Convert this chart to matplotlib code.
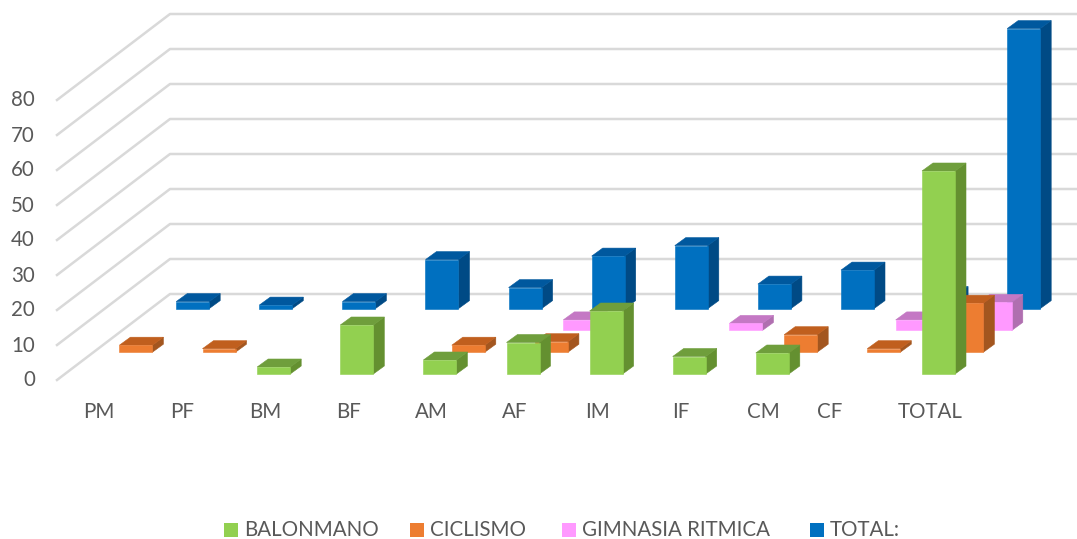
import matplotlib
matplotlib.use("Agg")
import matplotlib.pyplot as plt
from matplotlib.patches import Polygon, Rectangle

# data
categories = ["PM", "PF", "BM", "BF", "AM", "AF", "IM", "IF", "CM", "CF", "TOTAL"]
balonmano = [0, 0, 2, 14, 4, 9, 18, 5, 6, 0, 58]
ciclismo = [2, 1, 0, 0, 2, 3, 0, 0, 5, 1, 14]
gimnasia = [0, 0, 0, 0, 0, 3, 0, 2, 0, 3, 8]
total = [2, 1, 2, 14, 6, 15, 18, 7, 11, 4, 80]
y_ticks = [0, 10, 20, 30, 40, 50, 60, 70, 80]

series_names = ["BALONMANO", "CICLISMO", "GIMNASIA RITMICA", "TOTAL:"]
series_values = [balonmano, ciclismo, gimnasia, total]

# face, top, side
colors = [
    ("#92D050", "#6F9E3C", "#649030"),
    ("#ED7D31", "#C05F1E", "#A3561F"),
    ("#FF99FF", "#C478C4", "#B06FB0"),
    ("#0070C0", "#00589E", "#004A85"),
]

TEXT = "#595959"
GRID = "#D9D9D9"
FONT = "Lato"
FONT_SIZE = 14.8

# oblique projection of the excel 3d chart, in pixels
X0, Y0 = 91.0, 374.0
CAT_STEP = 83.1
ROW_DX, ROW_DY = 28.4, -21.8
BAR_W = 33.0
BAR_DX, BAR_DY = 11.0, -8.0
UNIT = 3.5
FLOOR_X, FLOOR_Y = 57.0, 380.0
WALL_DX, WALL_DY = 113.0, -86.0


def draw_bar(ax, cat, row, value):
    x = X0 + CAT_STEP * cat + ROW_DX * row
    base = Y0 + ROW_DY * row
    top = base - value * UNIT
    face, top_c, side = colors[row]
    ax.add_patch(Polygon(
        [(x + BAR_W, base), (x + BAR_W + BAR_DX, base + BAR_DY),
         (x + BAR_W + BAR_DX, top + BAR_DY), (x + BAR_W, top)],
        facecolor=side, edgecolor=side, lw=0.4))
    ax.add_patch(Polygon(
        [(x, top), (x + BAR_W, top), (x + BAR_W + BAR_DX, top + BAR_DY),
         (x + BAR_DX, top + BAR_DY)],
        facecolor=top_c, edgecolor=top_c, lw=0.4))
    ax.add_patch(Rectangle((x, top), BAR_W, base - top,
                           facecolor=face, edgecolor=face, lw=0.4))


def draw_grid(ax):
    for tick in y_ticks:
        y = FLOOR_Y - tick * UNIT
        ax.plot([FLOOR_X, FLOOR_X + WALL_DX, 1077],
                [y, y + WALL_DY, y + WALL_DY], color=GRID, lw=1.8, zorder=0)
        ax.text(35, y + 0.5, str(tick), ha="right", va="center",
                color=TEXT, fontsize=FONT_SIZE, family=FONT)


def draw_labels(ax):
    # the last two labels are off the regular step in the original
    nudge = {"CF": -17, "TOTAL": 0}
    for i, name in enumerate(categories):
        x = 99 + CAT_STEP * i + nudge.get(name, 0)
        if name == "TOTAL":
            x = 930
        ax.text(x, 412, name, ha="center", va="center",
                color=TEXT, fontsize=FONT_SIZE, family=FONT)


def draw_legend(ax):
    starts = [224, 410, 562, 810]
    for i, name in enumerate(series_names):
        ax.add_patch(Rectangle((starts[i], 523), 14, 14, facecolor=colors[i][0],
                               edgecolor="none"))
        ax.text(starts[i] + 20, 530.5, name, ha="left", va="center",
                color=TEXT, fontsize=FONT_SIZE, family=FONT)


def main():
    fig = plt.figure(figsize=(10.77, 5.39), dpi=100)
    ax = fig.add_axes([0, 0, 1, 1])
    ax.set_xlim(0, 1077)
    ax.set_ylim(539, 0)
    ax.axis("off")

    draw_grid(ax)
    # back row first so the front rows cover it
    for row in range(len(series_values) - 1, -1, -1):
        for cat, value in enumerate(series_values[row]):
            if value > 0:
                draw_bar(ax, cat, row, value)
    draw_labels(ax)
    draw_legend(ax)

    fig.savefig("out.png", dpi=100)


if __name__ == "__main__":
    main()
